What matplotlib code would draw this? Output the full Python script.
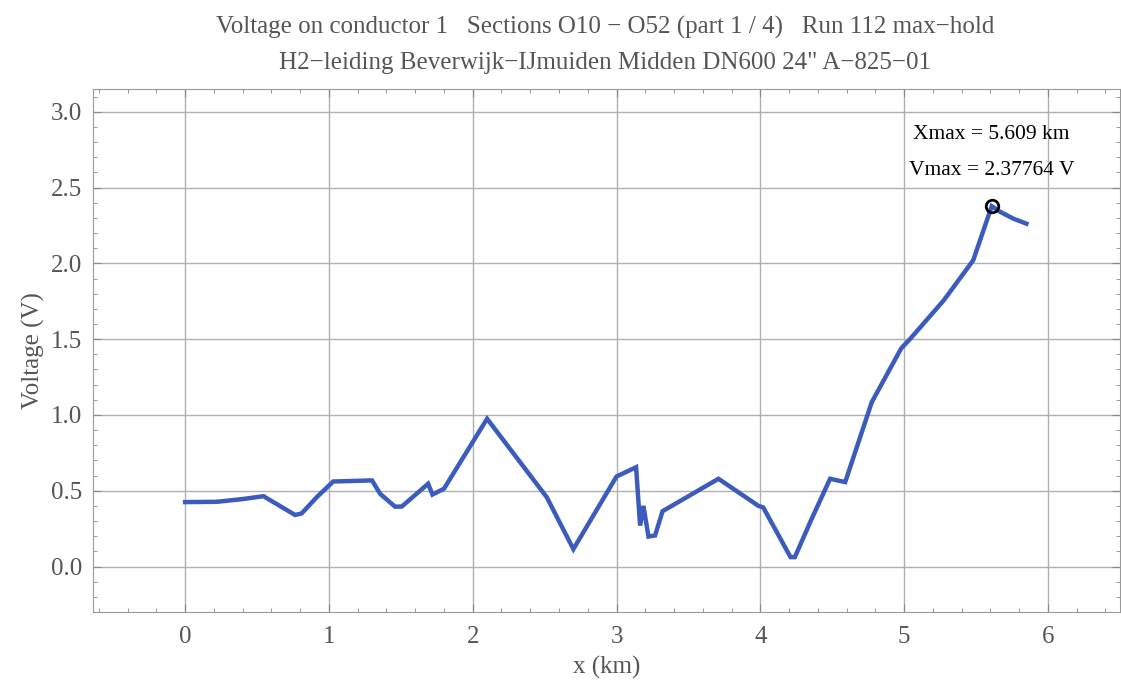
import numpy as np
import matplotlib.pyplot as plt
from matplotlib.ticker import MultipleLocator

# data
x_km = [0.0, 0.22, 0.40, 0.545, 0.765, 0.81, 0.915, 1.03, 1.30, 1.356, 1.46, 1.507,
        1.69, 1.72, 1.80, 2.10, 2.515, 2.70, 3.00, 3.136, 3.164, 3.187, 3.222,
        3.268, 3.32, 3.709, 3.987, 4.02, 4.21, 4.24, 4.35, 4.485, 4.59, 4.775,
        4.98, 5.04, 5.275, 5.48, 5.609, 5.67, 5.76, 5.85]
volt = [0.425, 0.427, 0.445, 0.464, 0.34, 0.35, 0.457, 0.561, 0.568, 0.48, 0.395, 0.396,
        0.546, 0.475, 0.513, 0.975, 0.457, 0.115, 0.594, 0.655, 0.27, 0.40, 0.198,
        0.205, 0.365, 0.579, 0.40, 0.39, 0.062, 0.062, 0.30, 0.579, 0.557, 1.085,
        1.44, 1.50, 1.756, 2.02, 2.37764, 2.339, 2.295, 2.262]
xmax, vmax = 5.609, 2.37764

plt.rcParams['font.family'] = ['Liberation Serif', 'DejaVu Serif']
grey = '#555555'

fig = plt.figure(figsize=(11.21, 6.8), dpi=100)
ax = fig.add_axes([0.083, 0.1, 0.916, 0.769])

ax.plot(x_km, volt, color='#3b5bbd', lw=3.2, solid_joinstyle='miter', zorder=3)
ax.plot([xmax], [vmax], 'o', ms=9, mfc='none', mec='black', mew=2, zorder=4)
ax.text(xmax, 2.85, f'Xmax = {xmax} km', ha='center', va='center', fontsize=15.5)
ax.text(xmax, 2.61, f'Vmax = {vmax} V', ha='center', va='center', fontsize=15.5)

ax.set_xlim(-0.64, 6.5)
ax.set_ylim(-0.30, 3.15)
ax.xaxis.set_major_locator(MultipleLocator(1))
ax.xaxis.set_minor_locator(MultipleLocator(0.2))
ax.yaxis.set_major_locator(MultipleLocator(0.5))
ax.yaxis.set_minor_locator(MultipleLocator(0.1))
ax.set_yticks(np.arange(0, 3.01, 0.5))
ax.set_yticklabels([f'{v:.1f}' for v in np.arange(0, 3.01, 0.5)])

ax.grid(True, which='major', color='#b0b0b0', lw=1)
ax.tick_params(which='both', direction='in', colors='#888888', labelcolor=grey,
               top=True, right=True, labelsize=18)
ax.tick_params(which='major', length=6)
ax.tick_params(axis='x', which='major', pad=10)
ax.tick_params(axis='y', which='major', pad=8)
ax.tick_params(which='minor', length=3)
for s in ax.spines.values():
    s.set_color('#999999')

ax.set_xlabel('x (km)', fontsize=18, color=grey, labelpad=6)
ax.set_ylabel('Voltage (V)', fontsize=18, color=grey, labelpad=4)

fig.text(0.54, 0.96, 'Voltage on conductor 1   Sections O10 \u2212 O52 (part 1 / 4)   Run 112 max\u2212hold',
         ha='center', va='center', fontsize=18, color=grey)
fig.text(0.54, 0.908, 'H2\u2212leiding Beverwijk\u2212IJmuiden Midden DN600 24" A\u2212825\u221201',
         ha='center', va='center', fontsize=18, color=grey)

fig.savefig('out.png', dpi=100)
